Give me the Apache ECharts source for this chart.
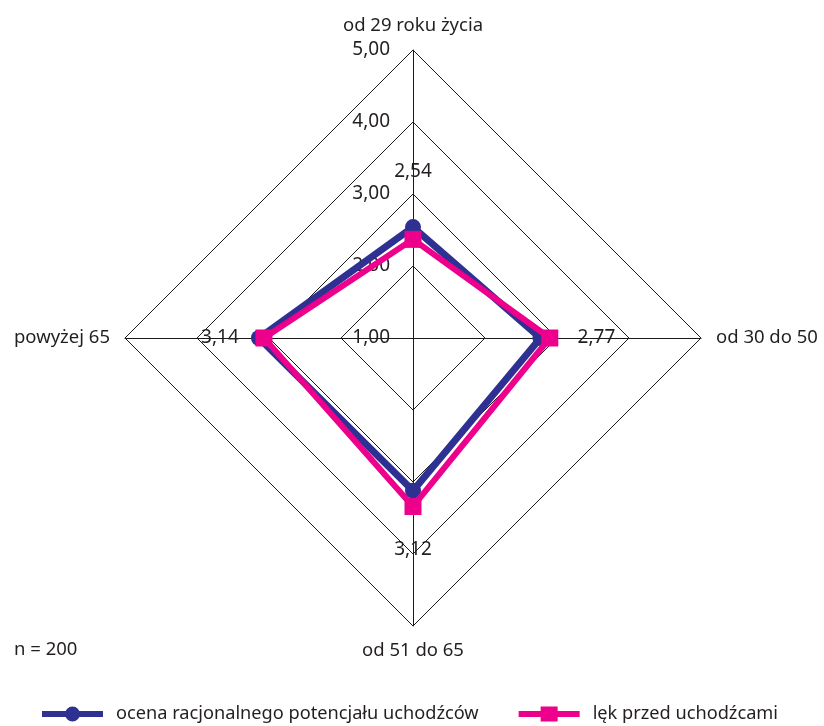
<!DOCTYPE html>
<html><head><meta charset="utf-8">
<script src="https://cdn.jsdelivr.net/npm/echarts@6/dist/echarts.min.js"></script>
<style>html,body{margin:0;padding:0;background:#fff}#c{width:824px;height:726px}</style>
</head><body><div id="c"></div>
<script>
// indicator order: top, left, bottom, right (ECharts places them counter-clockwise)
const categories = ['od 29 roku życia', 'powyżej 65', 'od 51 do 65', 'od 30 do 50'];
const seriesNames = ['ocena racjonalnego potencjału uchodźców', 'lęk przed uchodźcami'];
const ocenaValues = [2.54, 3.14, 3.12, 2.77];
const lekValues = [2.37, 3.07, 3.34, 2.90];
const scaleMin = 1, scaleMax = 5, scaleStep = 1;
const noteText = 'n = 200';

const FONT = '"Noto Sans", "Open Sans", sans-serif';
const TXT = '#231f20';
const FS = 18.5;
const fmt = v => v.toFixed(2).replace('.', ',');

const chart = echarts.init(document.getElementById('c'), null, {renderer: 'canvas'});
chart.setOption({
  animation: false,
  textStyle: {fontFamily: FONT},
  title: {text: noteText, left: 9, top: 635, textStyle: {fontFamily: FONT, fontSize: FS, fontWeight: 'normal', color: TXT}},
  legend: {
    left: 37, top: 700, itemGap: 40, itemWidth: 61, itemHeight: 16,
    textStyle: {fontFamily: FONT, fontSize: 18.2, color: TXT, padding: [0, 0, 0, 8]},
    data: [
      {name: seriesNames[0], icon: 'path://M0,5 L61,5 L61,11 L0,11 Z M30.5,0.5 A7.5,7.5 0 1 1 30.5,15.5 A7.5,7.5 0 1 1 30.5,0.5 Z'},
      {name: seriesNames[1], icon: 'path://M0,5 L61,5 L61,11 L0,11 Z M22,0.5 L39,0.5 L39,15.5 L22,15.5 Z'}
    ]
  },
  grid: {left: 398, top: 50, height: 288, width: 1},
  xAxis: {show: false, type: 'value'},
  yAxis: {
    type: 'value', min: scaleMin, max: scaleMax, interval: scaleStep,
    axisLine: {show: false}, axisTick: {show: false}, splitLine: {show: false},
    axisLabel: {margin: 8, fontFamily: FONT, fontSize: 19, color: TXT, formatter: v => fmt(v)}
  },
  radar: {
    center: [413, 338], radius: 288, startAngle: 90, shape: 'polygon', splitNumber: 4,
    indicator: categories.map(n => ({name: n, min: scaleMin, max: scaleMax})),
    axisName: {color: TXT, fontFamily: FONT, fontSize: FS},
    nameGap: 15,
    axisLine: {lineStyle: {color: '#1a1a1a', width: 1}},
    splitLine: {lineStyle: {color: '#1a1a1a', width: 1}},
    splitArea: {show: false}
  },
  series: [
    {
      name: seriesNames[0], type: 'radar', z: 2,
      symbol: 'circle', symbolSize: 16,
      lineStyle: {color: '#2e3192', width: 7},
      itemStyle: {color: '#2e3192'},
      label: {
        show: true, position: 'inside', fontFamily: FONT, fontSize: 19, color: TXT,
        formatter: p => {
          const i = ocenaValues.indexOf(p.value);
          return '{t' + i + '|' + fmt(p.value) + '}';
        },
        rich: {
          t0: {fontFamily: FONT, fontSize: 19, color: TXT, padding: [0, 0, 112, 0]},
          t1: {fontFamily: FONT, fontSize: 19, color: TXT, padding: [0, 78, 0, 0]},
          t2: {fontFamily: FONT, fontSize: 19, color: TXT, padding: [118, 0, 0, 0]},
          t3: {fontFamily: FONT, fontSize: 19, color: TXT, padding: [0, 0, 0, 112]}
        }
      },
      data: [{name: seriesNames[0], value: ocenaValues}]
    },
    {
      name: seriesNames[1], type: 'radar', z: 3,
      symbol: 'rect', symbolSize: 17,
      lineStyle: {color: '#ec008c', width: 6},
      itemStyle: {color: '#ec008c'},
      data: [{name: seriesNames[1], value: lekValues}]
    }
  ]
});
</script></body></html>
